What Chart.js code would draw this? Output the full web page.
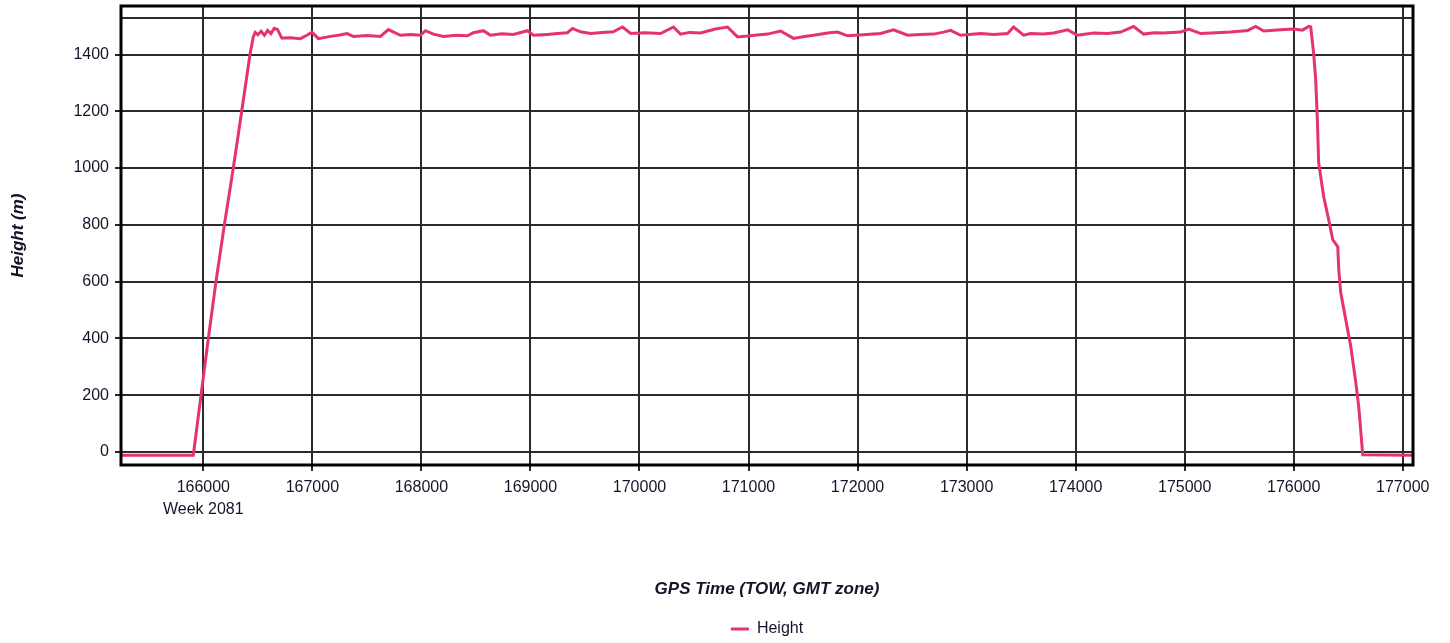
<!DOCTYPE html>
<html>
<head>
<meta charset="utf-8">
<title>Height</title>
<script src="https://cdn.jsdelivr.net/npm/chart.js@4.4.1/dist/chart.umd.min.js"></script>
<style>
  html, body { margin: 0; padding: 0; background: #fff; }
  #wrap { width: 1450px; height: 643px; position: relative; }
</style>
</head>
<body>
<div id="wrap"><canvas id="heightChart"></canvas></div>
<script>
// GPS time of week (s) and height (m)
const gpsTime = [
  165245, 165908, 165979, 166046, 166116, 166193, 166275, 166352, 166428, 166458,
  166475, 166500, 166530, 166560, 166590, 166620, 166650, 166680, 166720, 166800,
  166890, 166950, 166997, 167055, 167165, 167240, 167318, 167376, 167500, 167624,
  167697, 167807, 167900, 167991, 168037, 168110, 168202, 168320, 168422, 168477,
  168569, 168633, 168740, 168844, 168972, 169028, 169156, 169250, 169339, 169385,
  169459, 169550, 169660, 169760, 169844, 169920, 170050, 170193, 170312, 170376,
  170460, 170560, 170697, 170807, 170899, 170991, 171080, 171174, 171294, 171413,
  171500, 171596, 171725, 171817, 171908, 172050, 172211, 172330, 172459, 172580,
  172697, 172789, 172853, 172945, 173128, 173250, 173376, 173431, 173523, 173587,
  173700, 173798, 173927, 174018, 174165, 174290, 174413, 174532, 174624, 174720,
  174807, 174963, 175037, 175147, 175290, 175422, 175578, 175651, 175725, 175881,
  176000, 176080, 176138, 176156, 176183, 176202, 176217, 176229, 176275, 176321,
  176358, 176404, 176413, 176431, 176477, 176523, 176569, 176596, 176606, 176633,
  177094
];
const heightM = [
  -12, -12, 200, 400, 600, 800, 1000, 1200, 1400, 1462,
  1478, 1470, 1482, 1468, 1485, 1474, 1492, 1488, 1458, 1459,
  1456, 1468, 1479, 1456, 1464, 1468, 1474, 1464, 1467, 1464,
  1488, 1468, 1471, 1468, 1484, 1472, 1464, 1468, 1466, 1477,
  1484, 1468, 1473, 1471, 1484, 1468, 1471, 1474, 1477, 1492,
  1480, 1474, 1478, 1480, 1497, 1474, 1477, 1474, 1497, 1472,
  1478, 1476, 1490, 1497, 1462, 1465, 1469, 1472, 1483, 1457,
  1463, 1468, 1476, 1479, 1466, 1470, 1474, 1487, 1468, 1471,
  1472, 1479, 1485, 1468, 1474, 1471, 1474, 1497, 1468, 1474,
  1472, 1476, 1487, 1468, 1476, 1474, 1479, 1499, 1472, 1477,
  1476, 1479, 1490, 1474, 1477, 1479, 1485, 1499, 1483, 1487,
  1490, 1486, 1499, 1497, 1404, 1310, 1169, 1018, 899, 818,
  748, 723, 643, 562, 467, 372, 246, 160, 116, -10,
  -12
];

const xTicks = [166000, 167000, 168000, 169000, 170000, 171000, 172000, 173000, 174000, 175000, 176000, 177000];
const yTicks = [0, 200, 400, 600, 800, 1000, 1200, 1400, 1528];
const X_MIN = 165245, X_MAX = 177094;
const Y_MIN = -46, Y_MAX = 1571;
const WEEK_LABEL = "Week 2081";

const LINE_COLOR = "#e5336b";
const GRID_COLOR = "#2a2a2a";
const TEXT_COLOR = "#15152a";
const FONT = "'Liberation Sans', Arial, sans-serif";

// frame round the plot area
const framePlugin = {
  id: "frame",
  afterDraw(chart) {
    const { ctx, chartArea: a } = chart;
    ctx.save();
    ctx.strokeStyle = "#000";
    ctx.lineWidth = 3;
    ctx.strokeRect(a.left, a.top, a.right - a.left, a.bottom - a.top);
    ctx.restore();
  }
};

const points = gpsTime.map((t, i) => ({ x: t, y: heightM[i] }));

new Chart(document.getElementById("heightChart"), {
  type: "line",
  data: {
    datasets: [{
      label: "Height",
      data: points,
      borderColor: LINE_COLOR,
      backgroundColor: LINE_COLOR,
      borderWidth: 3,
      pointRadius: 0,
      tension: 0,
      fill: false,
    }]
  },
  options: {
    responsive: true,
    maintainAspectRatio: false,
    animation: false,
    layout: { padding: { top: 6, right: 37, bottom: -4, left: 0 } },
    plugins: {
      tooltip: { enabled: false },
      legend: {
        position: "bottom",
        fullSize: false,
        labels: {
          color: TEXT_COLOR,
          font: { family: FONT, size: 16 },
          padding: 10,
          usePointStyle: true,
          pointStyle: "line",
          pointStyleWidth: 18,
          boxHeight: 16,
        }
      }
    },
    scales: {
      x: {
        type: "linear",
        min: X_MIN,
        max: X_MAX,
        afterBuildTicks: s => { s.ticks = xTicks.map(v => ({ value: v })); },
        afterFit: s => { s.height = 146; s.paddingLeft = 0; s.paddingRight = 0; },
        border: { display: false },
        grid: { color: GRID_COLOR, lineWidth: 2, tickLength: 6, tickColor: GRID_COLOR },
        ticks: {
          color: TEXT_COLOR,
          padding: 6,
          maxRotation: 0,
          autoSkip: false,
          font: { family: FONT, size: 16, lineHeight: 1.34 },
          callback: v => v === 166000 ? [String(v), WEEK_LABEL] : String(v)
        },
        title: {
          display: true,
          text: "GPS Time (TOW, GMT zone)",
          color: TEXT_COLOR,
          font: { family: FONT, size: 17, weight: "bold", style: "italic" },
          padding: { top: 0, bottom: 11 }
        }
      },
      y: {
        type: "linear",
        min: Y_MIN,
        max: Y_MAX,
        afterBuildTicks: s => { s.ticks = yTicks.map(v => ({ value: v })); },
        afterFit: s => { s.width = 121; s.paddingTop = 0; s.paddingBottom = 0; },
        border: { display: false },
        grid: {
          color: GRID_COLOR,
          lineWidth: 2,
          tickLength: 6,
          tickColor: c => c.tick && c.tick.value === 1528 ? "rgba(0,0,0,0)" : GRID_COLOR
        },
        ticks: {
          color: TEXT_COLOR,
          padding: 6,
          autoSkip: false,
          font: { family: FONT, size: 16 },
          callback: v => v === 1528 ? "" : String(v)
        },
        title: {
          display: true,
          text: "Height (m)",
          color: TEXT_COLOR,
          font: { family: FONT, size: 17, weight: "bold", style: "italic" },
          padding: { top: 8, bottom: 4 }
        }
      }
    }
  },
  plugins: [framePlugin]
});
</script>
</body>
</html>
